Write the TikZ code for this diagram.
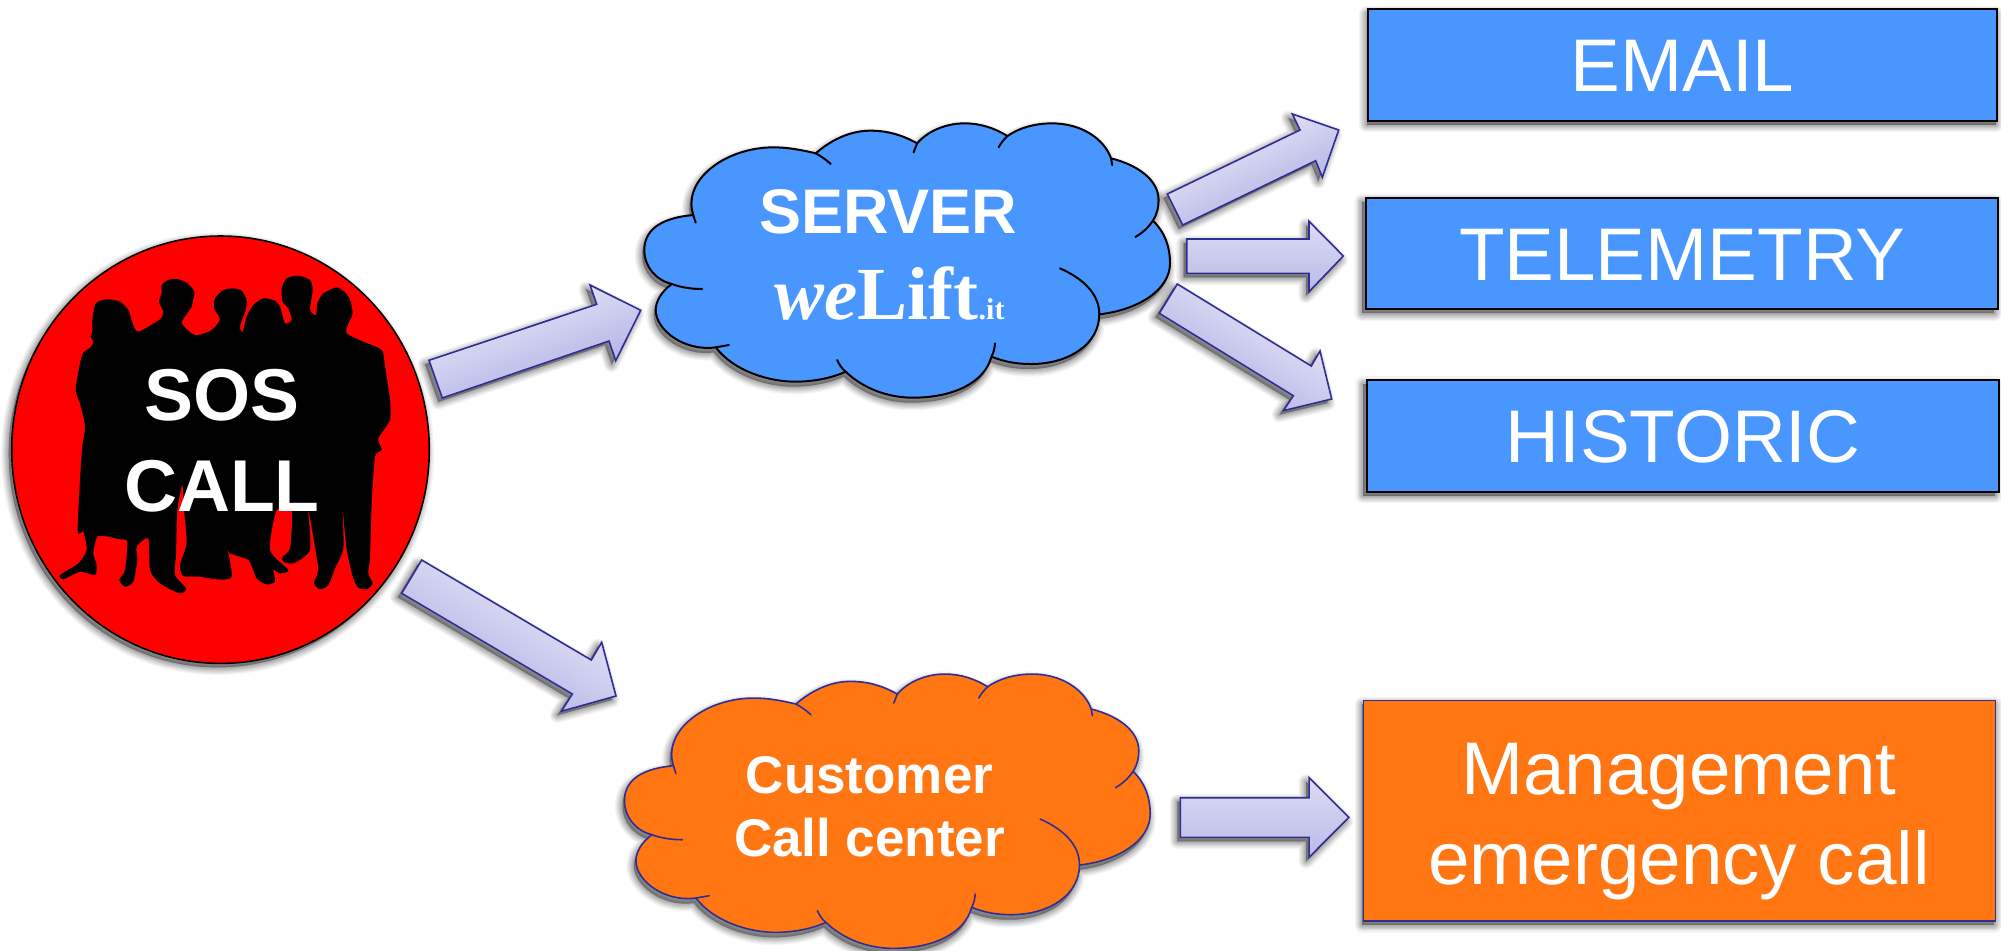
\documentclass[tikz,border=0pt]{standalone}
\usepackage{fontspec}
\usetikzlibrary{shapes.geometric}
\setmainfont{Liberation Sans}
\newfontfamily\logoserif{Liberation Serif}
\definecolor{boxblue}{HTML}{4A96FF}
\definecolor{boxorange}{HTML}{FF7613}
\definecolor{arrowedge}{HTML}{2E2E94}
\tikzset{
  shadowlayer/.style n args={3}{preaction={fill=black,draw=black,line join=round,opacity=.042,line width=#3,transform canvas={shift={(#1,#2)}}}},
  softshadow/.style 2 args={
    shadowlayer={#1}{#2}{0.5pt},shadowlayer={#1}{#2}{1.2pt},shadowlayer={#1}{#2}{2pt},shadowlayer={#1}{#2}{2.8pt},
    shadowlayer={#1}{#2}{3.6pt},shadowlayer={#1}{#2}{4.4pt},shadowlayer={#1}{#2}{5.4pt},shadowlayer={#1}{#2}{6.4pt},shadowlayer={#1}{#2}{7.6pt}},
  blockarrow/.style={draw=arrowedge,line width=.8pt,line join=miter},
  arrowflat/.style={blockarrow,top color={rgb,255:red,220;green,220;blue,245},bottom color={rgb,255:red,186;green,186;blue,232},softshadow={-1.5pt}{-2pt}},
  arrowtilt/.style={blockarrow,top color={rgb,255:red,240;green,240;blue,251},bottom color={rgb,255:red,168;green,168;blue,226},shading angle=#1,softshadow={-2pt}{-2pt}},
  bluebox/.style={rectangle,fill=boxblue,draw=black,line width=1pt,inner sep=0pt,outer sep=0pt,text=white,
    font=\fontsize{37.3}{37.3}\selectfont,text height=26.7pt,text depth=0pt},
  labelsans/.style={text=white,inner sep=0pt,align=center},
  cloudrim/.style={line width=#1,line cap=round,line join=round}
}
\newcommand{\cloudoutline}{
  (205,345) .. controls (100,355) and (68,400) .. (68,450)
  .. controls (68,500) and (100,540) .. (145,552)
  .. controls (115,575) and (100,605) .. (100,630)
  .. controls (100,690) and (180,755) .. (268,742)
  .. controls (320,815) and (420,845) .. (490,845)
  .. controls (540,845) and (590,835) .. (632,815)
  .. controls (680,865) and (750,893) .. (820,893)
  .. controls (930,893) and (1020,850) .. (1040,770)
  .. controls (1075,785) and (1110,792) .. (1150,792)
  .. controls (1260,792) and (1342,730) .. (1342,643)
  .. controls (1450,630) and (1540,570) .. (1540,490)
  .. controls (1540,440) and (1525,395) .. (1492,362)
  .. controls (1505,340) and (1508,320) .. (1508,300)
  .. controls (1508,240) and (1450,195) .. (1375,175)
  .. controls (1355,115) and (1290,70) .. (1210,70)
  .. controls (1160,70) and (1115,85) .. (1085,108)
  .. controls (1050,85) and (1010,70) .. (965,70)
  .. controls (910,70) and (860,95) .. (832,130)
  .. controls (790,105) and (750,92) .. (700,92)
  .. controls (640,92) and (585,125) .. (548,160)
  .. controls (510,150) and (470,142) .. (430,142)
  .. controls (310,142) and (200,220) .. (200,310)
  .. controls (200,325) and (202,335) .. (205,345) -- cycle}
\newcommand{\cloudticks}{
  (205,345) -- (212,368)
  (145,552) .. controls (170,562) and (200,567) .. (230,567)
  (268,742) -- (305,735)
  (632,815) .. controls (620,805) and (614,793) .. (608,780)
  (1040,770) .. controls (1046,758) and (1049,745) .. (1050,730)
  (1342,643) .. controls (1342,580) and (1295,535) .. (1232,505)
  (1492,362) .. controls (1478,385) and (1460,400) .. (1443,411)
  (1375,175) -- (1378,195)
  (1085,108) .. controls (1075,118) and (1066,130) .. (1060,142)
  (832,130) -- (822,157)
  (548,160) .. controls (565,170) and (578,180) .. (590,192)}
\begin{document}
\begin{tikzpicture}[x=0.5pt,y=-0.5pt]
\useasboundingbox (0,0) rectangle (2001,950);
\fill[white] (0,0) rectangle (2001,950);

% SOS circle
\node[ellipse,fill=red,draw=black,line width=.8pt,inner sep=0pt,outer sep=0pt,minimum width=208.8pt,minimum height=213.7pt,softshadow={-1.5pt}{-2pt}] (sos) at (220.5,449.7) {};
% people silhouette
\begin{scope}[shift={(0,220)},x=0.1666667pt,y=-0.1666667pt]
\fill[black] plot[smooth cycle,tension=.4] coordinates {
(250,398)(272,382)(280,365)(272,350)(277,335)(277,300)(285,255)(300,242)(325,238)(360,245)(385,270)(398,310)(415,335)(480,298)(490,275)(477,245)(485,220)(485,195)(505,180)(530,177)(560,188)(583,215)(578,245)(575,260)(565,275)(545,308)(565,332)(590,346)(635,330)(660,298)(642,265)(645,235)(670,210)(700,205)(725,212)(740,240)(737,270)(722,310)(720,325)(728,335)(740,290)(760,255)(790,235)(825,242)(840,260)(855,310)(875,300)(865,265)(848,245)(845,205)(860,175)(895,167)(930,180)(938,210)(930,270)(948,285)(952,250)(970,220)(1010,202)(1035,217)(1050,240)(1058,280)(1045,310)(1040,340)(1090,365)(1145,390)(1155,440)(1170,540)(1170,600)(1135,655)(1145,690)(1125,710)(1115,850)(1110,1010)(1105,1060)(1118,1090)(1100,1108)(1075,1103)(1060,1075)(1040,990)(1028,870)(1030,985)(1005,1045)(985,1095)(960,1108)(942,1090)(955,1050)(948,1000)(925,870)(930,990)(880,1030)(850,1025)(848,1010)(870,985)(875,870)(830,870)(810,990)(865,1050)(840,1060)(820,1050)(825,1085)(800,1093)(770,1075)(745,1020)(690,1000)(680,970)(695,1070)(650,1078)(600,1070)(550,1068)(540,1035)(560,970)(553,880)(547,795)(532,870)(528,1000)(525,1065)(558,1105)(540,1120)(480,1090)(450,1050)(445,955)(410,980)(412,1020)(400,1085)(375,1100)(358,1080)(375,1050)(382,965)(360,958)(295,948)(280,1000)(290,1035)(285,1065)(240,1055)(190,1078)(180,1065)(235,1030)(260,990)(250,935)(233,930)(245,700)(255,620)(240,550)(227,510)(240,430)};
\end{scope}
\node[labelsans,font=\bfseries\fontsize{36.7}{45.25}\selectfont,anchor=base] (soslabel) at (222,511) {SOS\\CALL};

% arrows from the circle
\path[arrowtilt=20] (429,360.3) -- (442.3,398) -- (609,341) -- (615.7,360.7) -- (640.7,310.3) -- (590,285) -- (596.7,304.3) -- cycle;
\path[arrowtilt=-30] (421.7,560) -- (401.7,593.3) -- (572.3,694) -- (561.3,711.3) -- (616,696) -- (601.7,642.3) -- (591.3,660) -- cycle;

% server cloud
\begin{scope}[shift={(620,100)},x=0.1785714pt,y=-0.1666667pt]
\path[fill=boxblue,cloudrim=1pt,draw=black,softshadow={-1pt}{-2.5pt}] \cloudoutline;
\draw[cloudrim=1pt,black] \cloudticks;
\end{scope}
\node[text=white,inner sep=0pt,anchor=base,font=\bfseries\fontsize{31.5}{31.5}\selectfont] (server) at (888.5,233) {SERVER};
\node[text=white,inner sep=0pt,anchor=base] (welift) at (889.5,319) {\logoserif\bfseries\fontsize{37.5}{37.5}\selectfont{\itshape we}Lift{\fontsize{15}{15}\selectfont.it}};

% call-centre cloud
\begin{scope}[shift={(600.2,650.7)},x=0.1785714pt,y=-0.1666667pt]
\path[fill=boxorange,cloudrim=.8pt,draw=arrowedge,softshadow={-1pt}{-2.5pt}] \cloudoutline;
\draw[cloudrim=.8pt,arrowedge] \cloudticks;
\end{scope}
\node[labelsans,font=\bfseries\fontsize{26.5}{31.7}\selectfont,anchor=base] (callcenter) at (869.5,856.7) {Customer\\Call center};

% boxes
\node[bluebox,minimum width=314.5pt,minimum height=55.6pt,softshadow={-.5pt}{-2pt}] (email) at (1682.3,65) {EMAIL};
\node[bluebox,minimum width=316.2pt,minimum height=55.8pt,softshadow={-2pt}{-2pt}] (telemetry) at (1682.2,253.6) {TELEMETRY};
\node[bluebox,minimum width=316pt,minimum height=55.8pt,softshadow={-2pt}{-2pt}] (historic) at (1683,435.8) {HISTORIC};
\node[rectangle,fill=boxorange,draw=arrowedge,line width=.8pt,inner sep=0pt,outer sep=0pt,minimum width=316pt,minimum height=110.3pt,softshadow={-.5pt}{-2pt}] (mgmt) at (1679.3,810.6) {};
\node[labelsans,font=\fontsize{37.3}{45}\selectfont,anchor=base] (mgmtlabel) at (1679,884) {Management\\emergency call};

% arrows to the boxes
\path[arrowtilt=26] (1167.3,194) -- (1182.7,225) -- (1315.7,160.7) -- (1322.3,177.3) -- (1338.7,130) -- (1292.3,114) -- (1300,130) -- cycle;
\path[arrowflat] (1186.7,239) -- (1186.7,273.3) -- (1309,273.3) -- (1309,291.7) -- (1343.3,256) -- (1309,221.3) -- (1309,239) -- cycle;
\path[arrowtilt=-32] (1177.3,284) -- (1159.3,313.3) -- (1293.3,395.7) -- (1283.3,410.7) -- (1331.7,399) -- (1320,351) -- (1311.3,366) -- cycle;
\path[arrowflat] (1180.4,797.7) -- (1180.4,837.3) -- (1309.1,837.3) -- (1309.1,857.3) -- (1348.8,817.3) -- (1309.1,777.7) -- (1309.1,797.7) -- cycle;
\end{tikzpicture}
\end{document}
